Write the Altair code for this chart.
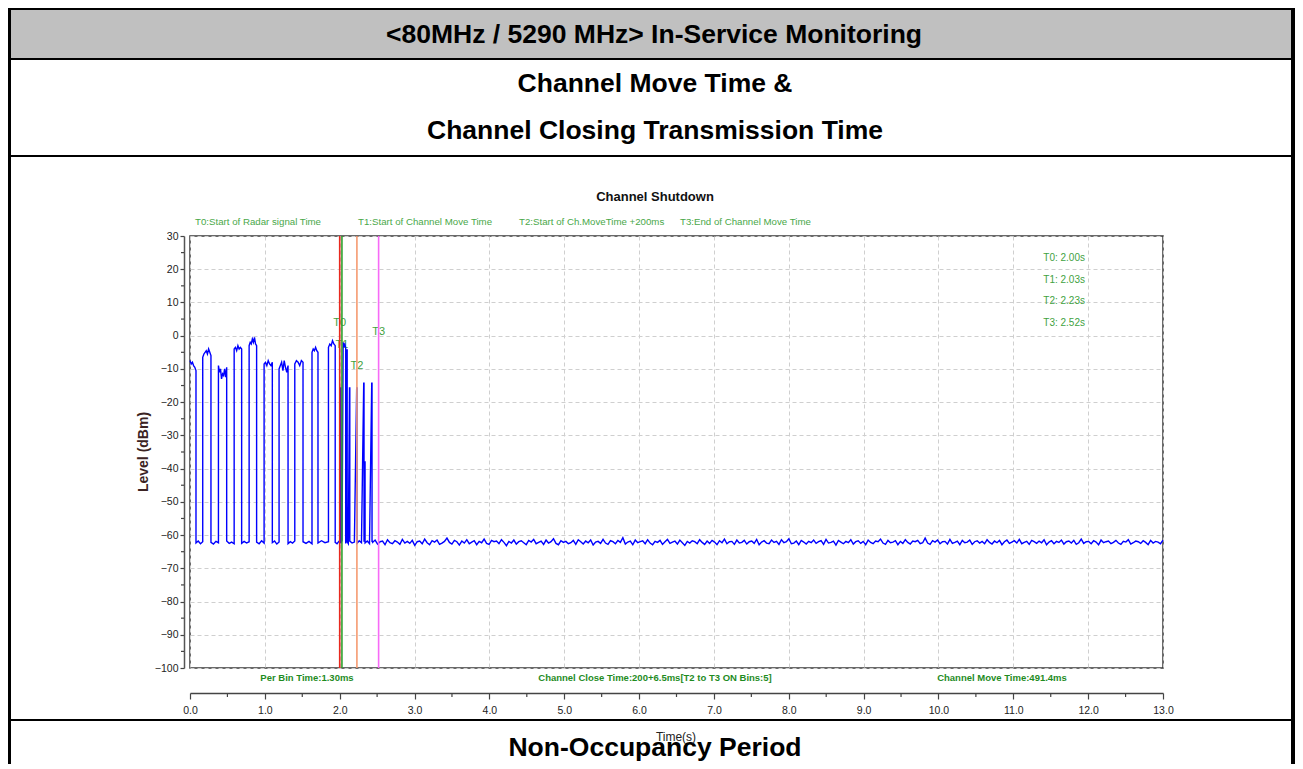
import altair as alt
import pandas as pd

# ---------------- data ----------------
x_major = [0.0, 1.0, 2.0, 3.0, 4.0, 5.0, 6.0, 7.0, 8.0, 9.0, 10.0, 11.0, 12.0, 13.0]
x_minor = [0.5, 1.5, 2.5, 3.5, 4.5, 5.5, 6.5, 7.5, 8.5, 9.5, 10.5, 11.5, 12.5]
y_major = [30, 20, 10, 0, -10, -20, -30, -40, -50, -60, -70, -80, -90, -100]
y_minor = [25, 15, 5, -5, -15, -25, -35, -45, -55, -65, -75, -85, -95]

pulse_start = [0.00, 0.17, 0.38, 0.59, 0.79, 0.99, 1.19, 1.40, 1.63, 1.85]
pulse_end = [0.08, 0.28, 0.49, 0.69, 0.89, 1.10, 1.31, 1.51, 1.71, 1.94]
pulse_levels = [
    [-7.5, -8.5, -8.0, -9.0, -9.5, -10.5],
    [-6.5, -5.5, -5.0, -4.5, -5.5, -4.0, -5.0, -6.0],
    [-9.0, -11.0, -10.0, -13.0, -11.5, -12.0, -10.0, -12.5, -9.5],
    [-4.0, -3.5, -4.5, -3.0, -4.0, -3.5, -4.0],
    [-3.0, -2.0, -2.5, -1.0, -2.0, -0.5, -2.5, -3.0],
    [-8.5, -8.0, -9.0, -7.5, -8.5, -9.0, -8.0],
    [-10.0, -9.0, -8.0, -10.5, -7.5, -9.5, -11.0, -9.0],
    [-8.5, -7.5, -8.0, -9.0, -7.5, -8.0],
    [-5.0, -4.0, -4.5, -3.5, -4.5, -5.0],
    [-3.5, -2.5, -3.0, -1.5, -2.5, -3.0],
]
gap_levels = [
    [-62.4, -61.8, -62.6, -62.0],
    [-62.2, -62.7, -61.9, -62.3],
    [-61.8, -62.5, -62.1, -62.6],
    [-62.5, -61.9, -62.4, -62.0],
    [-62.1, -62.6, -61.7, -62.4],
    [-62.3, -61.8, -62.7, -62.1],
    [-62.6, -62.0, -62.4, -61.8],
    [-62.0, -62.5, -61.9, -62.6],
    [-62.4, -61.7, -62.3, -62.0],
    [-62.2, -62.6, -61.9, -62.3],
]
spike_start = [2.013, 2.046, 2.096, 2.131, 2.227, 2.321, 2.335, 2.428]
spike_end = [2.017, 2.080, 2.100, 2.135, 2.231, 2.325, 2.339, 2.432]
spike_levels = [[-15.7], [-2.0, -3.0, -2.5, -3.7], [-4.3], [-15.7], [-15.7], [-14.3], [-38.0], [-14.3]]
spike_gap = [[-62.3, -61.6], [-62.5, -61.9], [-62.0, -62.6], [-61.8, -62.4, -62.1],
             [-62.5, -61.7, -62.3], [-62.0], [-62.4, -61.8, -62.6], [-62.1, -61.7]]
floor_start = 2.44
floor_levels = [
    -62.2, -61.5, -62.7, -62.0, -61.8, -62.9, -61.4, -62.3, -62.6, -61.7,
    -62.1, -62.8, -61.3, -62.4, -61.9, -62.5, -61.6, -63.1, -62.0, -61.8,
    -62.6, -61.2, -62.3, -62.9, -61.7, -62.1, -61.5, -62.8, -62.4, -61.9,
    -60.9, -62.2, -62.7, -61.6, -62.0, -63.0, -61.8, -62.4, -61.4, -62.6,
    -62.1, -61.7, -62.9, -61.9, -62.3, -61.2, -62.5, -62.8, -61.6, -62.0,
    -61.8, -62.6, -61.4, -62.2, -63.2, -61.9, -62.4, -61.5, -62.7, -62.0,
    -61.7, -62.3, -62.9, -61.6, -62.1, -61.3, -62.6, -62.2, -61.8, -62.8,
    -61.5, -62.4, -62.0, -61.1, -62.5, -62.9, -61.7, -62.2, -61.9, -62.6,
    -62.3, -61.6, -62.8, -61.4, -62.0, -62.7, -61.8, -62.3, -61.5, -63.0,
    -62.1, -61.9, -62.5, -61.3, -62.4, -62.8, -61.7, -62.0, -62.6, -61.6,
    -62.2, -60.8, -62.7, -62.1, -61.8, -62.9, -61.5, -62.3, -62.0, -61.7,
    -62.6, -61.4, -62.4, -62.9, -61.9, -62.2, -61.6, -62.8, -62.0, -61.3,
    -62.5, -62.1, -61.8, -62.7, -61.5, -62.3, -63.1, -61.9, -62.4, -61.7,
    -62.0, -62.6, -61.4, -62.2, -62.8, -61.8, -62.5, -61.6, -62.1, -62.9,
    -61.7, -62.3, -61.2, -62.6, -62.0, -61.9, -62.8, -61.5, -62.4, -62.2,
    -61.6, -62.7, -62.0, -61.8, -62.5, -61.3, -62.9, -62.1, -61.7, -62.4,
    -62.6, -61.5, -62.2, -61.9, -62.8, -61.4, -62.3, -62.0, -61.1, -62.6,
    -62.4, -61.8, -62.9, -61.6, -62.1, -62.7, -61.9, -62.3, -61.5, -62.5,
    -62.0, -61.7, -62.8, -61.3, -62.4, -62.2, -61.8, -63.0, -61.6, -62.1,
    -62.6, -61.9, -62.3, -61.4, -62.7, -62.0, -61.7, -62.5, -61.9, -62.9,
    -61.5, -62.2, -62.6, -61.8, -62.0, -61.2, -62.4, -62.8, -61.6, -62.3,
    -62.1, -61.7, -62.9, -61.9, -62.5, -61.4, -62.2, -62.7, -61.8, -62.0,
    -61.6, -62.6, -62.3, -60.9, -62.4, -62.8, -61.7, -62.1, -61.5, -62.6,
    -62.0, -61.9, -62.7, -61.3, -62.5, -62.2, -61.8, -62.9, -61.6, -62.3,
    -62.1, -61.5, -62.8, -62.0, -61.7, -62.4, -61.9, -62.6, -61.4, -62.2,
    -62.7, -61.8, -62.3, -61.6, -62.9, -62.0, -61.5, -62.5, -62.1, -61.7,
    -62.4, -61.3, -62.6, -62.2, -61.9, -62.8, -61.6, -62.0, -62.5, -61.8,
    -62.3, -61.4, -62.9, -62.1, -61.7, -62.6, -61.9, -62.2, -61.5, -62.7,
    -62.0, -61.8, -62.4, -61.6, -62.8, -62.3, -61.2, -62.5, -62.0, -61.9,
    -62.6, -61.7, -62.1, -62.9, -61.5, -62.3, -62.0, -61.8, -62.6, -62.2,
    -61.6, -62.4, -62.8, -61.9, -62.1, -61.4, -62.7, -62.3, -61.8, -62.0,
    -62.5, -61.7, -62.2, -62.9, -61.6, -62.4, -61.9, -62.1, -62.6, -61.5,
]

marker_names = ["T0", "T1", "T2", "T3"]
marker_times = [2.00, 2.03, 2.23, 2.52]
marker_colors = ["#e8281e", "#2ea02e", "#f59a70", "#f76af7"]
marker_label_levels = [3.8, -2.8, -9.1, 1.1]

legend_texts = ["T0:Start of Radar signal Time", "T1:Start of Channel Move Time",
                "T2:Start of Ch.MoveTime +200ms", "T3:End of Channel Move Time"]
bottom_texts = ["Per Bin Time:1.30ms", "Channel Close Time:200+6.5ms[T2 to T3 ON Bins:5]",
                "Channel Move Time:491.4ms"]

# ---------------- build signal table ----------------
rows = []


def add(t, v):
    rows.append({"i": len(rows), "t": round(t, 5), "v": v})


for k in range(len(pulse_start)):
    s, e, lv = pulse_start[k], pulse_end[k], pulse_levels[k]
    n = len(lv)
    for j, v in enumerate(lv):
        add(s + (e - s) * j / (n - 1), v)
    g = gap_levels[k]
    nxt = pulse_start[k + 1] if k + 1 < len(pulse_start) else spike_start[0]
    for j, v in enumerate(g):
        add(e + (nxt - e) * j / (len(g) - 1), v)

for k in range(len(spike_start)):
    s, e, lv = spike_start[k], spike_end[k], spike_levels[k]
    if len(lv) == 1:
        add(s, lv[0])
        add(e, lv[0])
    else:
        for j, v in enumerate(lv):
            add(s + (e - s) * j / (len(lv) - 1), v)
    g = spike_gap[k]
    nxt = spike_start[k + 1] if k + 1 < len(spike_start) else floor_start
    for j, v in enumerate(g):
        add(e + (nxt - e) * j / len(g), v)

nf = len(floor_levels)
for j, v in enumerate(floor_levels):
    add(floor_start + (13.0 - floor_start) * j / (nf - 1), v)

sig = pd.DataFrame(rows)
markers = pd.DataFrame({"name": marker_names, "t": marker_times, "c": marker_colors,
                        "lv": marker_label_levels})

# ---------------- layout ----------------
OX, OY = 190, 236          # plot origin on the page
W, H = 973, 432
TOTAL_W, TOTAL_H = 1287, 756
PAD = {"left": OX - 8, "top": OY - 8, "right": TOTAL_W - (OX - 8) - W,
       "bottom": TOTAL_H - (OY - 8) - H}
BOTTOM = 8 + TOTAL_H
RIGHT = 8 + TOTAL_W

FONT = "Liberation Sans, Arial, Helvetica, sans-serif"

xs = alt.Scale(domain=[0, 13], nice=False, zero=False)
ys = alt.Scale(domain=[-100, 30], nice=False, zero=False)

x_axis = alt.Axis(values=x_major, format=".1f", offset=25, tickSize=6, tickColor="#444",
                  domainColor="#444", domainWidth=1.5, tickWidth=1.2, labelFontSize=10.5,
                  labelPadding=6, labelFont=FONT, labelColor="#222", labelFlush=False,
                  grid=True, gridDash=[4, 3], gridColor="#cfcfcf", title=None)
y_axis = alt.Axis(values=y_major, offset=6, tickSize=4, tickColor="#444", domainColor="#555",
                  domainWidth=1.5, tickWidth=1.2, labelFontSize=10.5, labelPadding=2,
                  labelFont=FONT, labelColor="#222", labelFlush=False, grid=True,
                  gridDash=[4, 3], gridColor="#cfcfcf", title=None)

blank = alt.Data(values=[{}])


def box(x1, x2, y1, y2, color):
    return alt.Chart(blank).mark_rect(color=color).encode(
        x=alt.value(x1 - OX), x2=alt.value(x2 - OX),
        y=alt.value(y1 - OY), y2=alt.value(y2 - OY))


def ptext(text, X, Y, size, color, weight="normal", align="center",
          baseline="middle", angle=0):
    return alt.Chart(blank).mark_text(
        text=text, fontSize=size, color=color, fontWeight=weight, font=FONT,
        align=align, baseline=baseline, angle=angle).encode(
        x=alt.value(X - OX), y=alt.value(Y - OY))


layers = []
# document frame
layers.append(box(11, RIGHT - 4, 10, 58, "#c0c0c0"))
layers.append(box(8, RIGHT, 8, 10, "#000000"))
layers.append(box(8, 11, 8, BOTTOM, "#000000"))
layers.append(box(RIGHT - 4, RIGHT, 8, BOTTOM, "#000000"))
layers.append(box(11, RIGHT - 4, 58, 60, "#000000"))
layers.append(box(11, RIGHT - 4, 155, 157, "#000000"))
layers.append(box(11, RIGHT - 4, 719, 721, "#000000"))

layers.append(ptext("<80MHz / 5290 MHz> In-Service Monitoring", 654, 35, 26.5, "#000000", "bold"))
layers.append(ptext("Channel Move Time &", 655, 84, 26.5, "#000000", "bold"))
layers.append(ptext("Channel Closing Transmission Time", 655, 131, 26.5, "#000000", "bold"))

# marker labels (behind signal)
layers.append(alt.Chart(markers).mark_text(fontSize=11, font=FONT, color="#3fa23f").encode(
    x=alt.X("t:Q", scale=xs, axis=x_axis), y=alt.Y("lv:Q", scale=ys, axis=y_axis), text="name:N"))

# signal
layers.append(alt.Chart(sig).mark_line(color="#0000ff", strokeWidth=1.4).encode(
    x=alt.X("t:Q", scale=xs, axis=x_axis), y=alt.Y("v:Q", scale=ys, axis=y_axis),
    order="i:Q"))

# marker lines
layers.append(alt.Chart(markers).mark_rule(strokeWidth=1.6).encode(
    x=alt.X("t:Q", scale=xs, axis=x_axis), color=alt.Color("c:N", scale=None)))

# minor ticks
layers.append(alt.Chart(pd.DataFrame({"m": x_minor})).mark_rule(color="#444", strokeWidth=1.2).encode(
    x=alt.X("m:Q", scale=xs, axis=x_axis), y=alt.value(693 - OY), y2=alt.value(697 - OY)))
layers.append(alt.Chart(pd.DataFrame({"m": y_minor})).mark_rule(color="#444", strokeWidth=1.2).encode(
    y=alt.Y("m:Q", scale=ys, axis=y_axis), x=alt.value(184 - OX), x2=alt.value(181 - OX)))

# chart texts
layers.append(ptext("Channel Shutdown", 655, 197, 13, "#111111", "bold"))
for txt, X in zip(legend_texts, [195, 358, 519, 680]):
    layers.append(ptext(txt, X, 222, 9.7, "#49a849", align="left"))
for k, (n, t) in enumerate(zip(marker_names, marker_times)):
    layers.append(ptext(f"{n}: {t:.2f}s", 1085, 258 + 21.7 * k, 10, "#3fa23f", align="right"))
for txt, X in zip(bottom_texts, [307, 655, 1002]):
    layers.append(ptext(txt, X, 678, 9.5, "#1f8c1f", "bold"))
layers.append(ptext("Level (dBm)", 144, 452, 14, "#3b2323", "bold", angle=270))
layers.append(ptext("Non-Occupancy Period", 655, 756, 26.5, "#000000", "bold",
                    baseline="alphabetic"))
layers.append(ptext("Time(s)", 676, 737, 12, "#222222"))

chart = alt.layer(*layers).properties(
    width=W, height=H,
    autosize=alt.AutoSizeParams(type="none"),
    padding=PAD,
    background="white",
).configure_view(stroke="#3a3a3a", strokeWidth=1.5)

chart.save("out.html", embed_options={"renderer": "svg", "actions": False})
